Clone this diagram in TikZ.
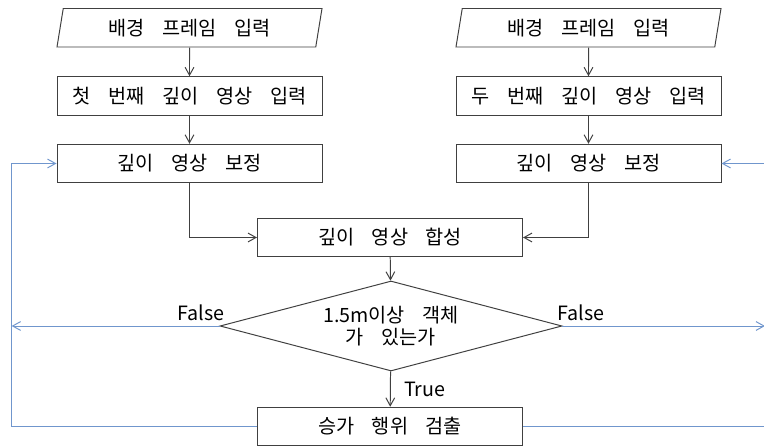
\documentclass[tikz,border=0pt]{standalone}
\usepackage{fontspec}
\setmainfont{Noto Sans CJK KR}[WordSpace=4.0]
\usepackage{tikz}
\usetikzlibrary{shapes.geometric, arrows.meta, positioning}
\definecolor{loopblue}{RGB}{112,150,205}
\tikzstyle{arrow} = [draw=black!75, line width=0.7pt, -{Straight Barb[length=2mm,width=2.2mm]}]
\tikzset{every node/.style={align=center}}

\begin{document}
\begin{tikzpicture}[
    box/.style={draw=black!75, line width=0.7pt, fill=white, minimum width=6.625cm,
                minimum height=0.9625cm, inner sep=0pt, font=\fontsize{14}{16}\selectfont},
    inbox/.style={box, trapezium, trapezium left angle=70.7, trapezium right angle=109.3,
                  trapezium stretches body},
    cond/.style={box, diamond, aspect=3.8, minimum width=8.55cm, minimum height=2.25cm,
                 font=\fontsize{14}{15.5}\selectfont},
    back/.style={draw=loopblue, line width=0.7pt, -{Straight Barb[length=2mm,width=2.2mm]}},
    lbl/.style={font=\fontsize{14}{16}\selectfont, inner sep=0pt}
]
  \useasboundingbox (0,0) rectangle (19.1,-11.175);
  % Two input columns
  \node (BG1)  at (4.7375, -0.694)  [inbox] {배경 프레임 입력};
  \node (IN1)  at (4.7375, -2.4)    [box]   {첫 번째 깊이 영상 입력};
  \node (CAL1) at (4.7375, -4.0875) [box]   {깊이 영상 보정};
  \node (BG2)  at (14.7125,-0.694)  [inbox] {배경 프레임 입력};
  \node (IN2)  at (14.7125,-2.4)    [box]   {두 번째 깊이 영상 입력};
  \node (CAL2) at (14.7125,-4.0875) [box]   {깊이 영상 보정};
  % Merge, test and detection
  \node (MRG)  at (9.75, -5.9375)   [box]   {깊이 영상 합성};
  \node (DEC)  at (9.775,-8.15)     [cond]  {1.5m이상 객체\\가 있는가};
  \node (DET)  at (9.75, -10.6625)  [box]   {승가 행위 검출};
  % Rails for the feedback loops
  \coordinate (LL) at (0.29,  -10.6625);
  \coordinate (RR) at (19.125,-10.6625);
  % Forward flow
  \draw[arrow] (BG1) -- (IN1);
  \draw[arrow] (IN1) -- (CAL1);
  \draw[arrow] (BG2) -- (IN2);
  \draw[arrow] (IN2) -- (CAL2);
  \draw[arrow] (CAL1.south) |- (MRG.west);
  \draw[arrow] (CAL2.south) |- (MRG.east);
  \draw[arrow] (MRG) -- (DEC);
  \draw[arrow] (DEC) -- node (YES) [lbl, right=0.33cm] {True} (DET);
  % Feedback
  \draw[back] (DEC.west) -- (DEC.west -| LL);
  \draw[back] (DEC.east) -- (DEC.east -| RR);
  \draw[back] (DET.west) -- (LL) |- (CAL1.west);
  \draw[back] (DET.east) -- (RR) |- (CAL2.east);
  \node (NO1) [lbl, above left=0.125cm and -0.13cm of DEC.west]  {False};
  \node (NO2) [lbl, above right=0.125cm and -0.13cm of DEC.east] {False};
\end{tikzpicture}
\end{document}
